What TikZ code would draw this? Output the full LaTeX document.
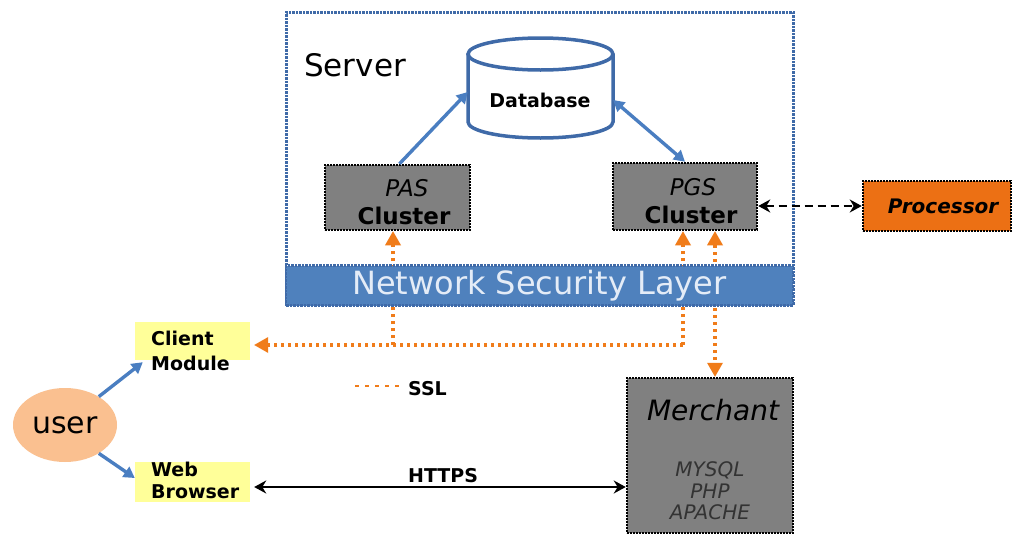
\documentclass[tikz,border=0pt]{standalone}
\usepackage{fontspec}
\setmainfont{DejaVu Sans}
\usetikzlibrary{arrows.meta,calc,shapes.geometric}
\definecolor{grayfill}{HTML}{808080}
\definecolor{srvblue}{HTML}{3F6AA8}
\definecolor{bandblue}{HTML}{4F81BD}
\definecolor{bandtext}{HTML}{E4ECF7}
\definecolor{arrblue}{HTML}{4A7EC1}
\definecolor{orng}{HTML}{F07C1A}
\definecolor{procfill}{HTML}{EC7014}
\definecolor{yel}{HTML}{FFFF99}
\definecolor{peach}{HTML}{FAC090}
\tikzset{
  graybox/.style={draw=black, dash pattern=on 1.8pt off 1.2pt, line width=2.5pt, fill=grayfill, inner sep=0pt, align=center},
  yelbox/.style={fill=yel, inner sep=0pt},
  bluearr/.style={draw=arrblue, line width=3.4pt, -{Triangle[length=11pt,width=12pt]}},
  bluearr2/.style={draw=arrblue, line width=3.4pt, {Triangle[length=11pt,width=12pt]}-{Triangle[length=11pt,width=12pt]}},
  orarr/.style={draw=orng, line width=3.5pt, dash pattern=on 3pt off 4pt},
  blkarr/.style={draw=black, line width=2.6pt, {Stealth[length=12pt,width=13pt]}-{Stealth[length=12pt,width=13pt]}},
  lbl/.style={inner sep=0pt, font=\bfseries\fontsize{19}{25}\selectfont, text=black, align=left},
  clustxt/.style={inner sep=0pt, align=center, font=\fontsize{23}{28}\selectfont},
}
\begin{document}
\begin{tikzpicture}[x=1pt,y=-1pt]
\useasboundingbox[fill=white] (0,0) rectangle (1012,533);
% server box
\node[draw=srvblue, dash pattern=on 2.5pt off 1pt, line width=3pt, minimum width=507pt, minimum height=293pt, inner sep=0pt] (server) at (539.5,158.5) {};
\node[inner sep=0pt, font=\fontsize{31}{32}\selectfont, anchor=west] (srvlbl) at (304,65) {Server};
% database cylinder
\node[minimum width=145pt, minimum height=100pt, inner sep=0pt] (db) at (540.5,88) {};
\fill[white] (468,54) -- (468,122) arc[start angle=180,end angle=0,x radius=72.5,y radius=16] -- (613,54) -- cycle;
\draw[srvblue, line width=3.5pt] (468,54) -- (468,122) arc[start angle=180,end angle=0,x radius=72.5,y radius=16] -- (613,54);
\draw[srvblue, line width=3.5pt, fill=white] (540.5,54) ellipse[x radius=72.5, y radius=16];
\node[inner sep=0pt, font=\bfseries\fontsize{19}{20}\selectfont] (dblbl) at (540,100) {Database};
% clusters
\node[graybox, minimum width=145pt, minimum height=65pt] (pas) at (397.5,197.5) {};
\node[clustxt] (pastxt) at (404,202) {\hspace*{6pt}\textit{PAS}\\\textbf{Cluster}};
\node[graybox, minimum width=144pt, minimum height=67pt] (pgs) at (685,196.5) {};
\node[clustxt] (pgstxt) at (691,201) {\hspace*{4pt}\textit{PGS}\\\textbf{Cluster}};
% processor
\node[graybox, fill=procfill, minimum width=148pt, minimum height=50pt, font=\bfseries\itshape\fontsize{20}{22}\selectfont] (proc) at (937,206) {\hspace*{12pt}Processor};
% merchant
\node[graybox, minimum width=166pt, minimum height=155pt] (merch) at (710,455.5) {};
\node[inner sep=0pt, font=\itshape\fontsize{28}{30}\selectfont] (merchlbl) at (713,410) {Merchant};
\node[inner sep=0pt, align=center, font=\itshape\fontsize{20}{21.5}\selectfont, text=black!80] (merchsw) at (710,491) {MYSQL\\PHP\\APACHE};
% user side
\node[ellipse, fill=peach, minimum width=104pt, minimum height=74pt, inner sep=0pt, font=\fontsize{30}{32}\selectfont] (user) at (65,425) {user};
\node[yelbox, minimum width=115pt, minimum height=38pt] (client) at (192.5,341) {};
\node[lbl, anchor=north west] (clientlbl) at (151,331) {Client\\Module};
\node[yelbox, minimum width=115pt, minimum height=40pt] (web) at (192.5,482) {};
\node[lbl, anchor=north west] (weblbl) at (151,462) {Web\\[-3pt]Browser};
% blue arrows
\draw[bluearr] ([xshift=2pt]pas.north) -- ([yshift=-4pt]db.west);
\draw[bluearr2] ([yshift=-12pt]db.east) -- (pgs.north);
\draw[bluearr] (user.40) -- ([xshift=8pt,yshift=-2pt]client.south west);
\draw[bluearr] (user.-40) -- ([yshift=4pt]web.west);
% processor link
\draw[blkarr, dash pattern=on 8pt off 5pt] (proc.west -| pgs.east) -- (proc.west);
% orange SSL lines
\coordinate (j1) at (393,345);
\coordinate (j2) at (683,345);
\coordinate (ce) at ($(j2 -| client.east)+(4,0)$);
\draw[orarr] (j2) -- ($(ce)+(6,0)$);
\draw[orarr] (j1) -- ($(j1 |- pas.south)+(0,10)$);
\draw[orarr] (j2) -- ($(j2 |- pgs.south)+(0,10)$);
\coordinate (m1) at ($(merch.north)+(5,0)$);
\coordinate (m2) at (m1 |- pgs.south);
\draw[orarr] ($(m1)+(0,-10)$) -- ($(m2)+(0,10)$);
\fill[orng] (ce) -- ++(14,-8) -- ++(0,16) -- cycle;
\fill[orng] (j1 |- pas.south) -- ++(-8,14) -- ++(16,0) -- cycle;
\fill[orng] (j2 |- pgs.south) -- ++(-8,14) -- ++(16,0) -- cycle;
\fill[orng] (m2) -- ++(-8,14) -- ++(16,0) -- cycle;
\fill[orng] (m1) -- ++(-8,-14) -- ++(16,0) -- cycle;
% network security layer band (over the orange lines)
\node[fill=bandblue, draw=srvblue, dash pattern=on 2.5pt off 1pt, line width=2.5pt, minimum width=507pt, minimum height=40pt, inner sep=0pt, text=bandtext, font=\fontsize{32}{34}\selectfont] (nsl) at (539.5,285.5) {Network Security Layer};
% SSL legend
\coordinate (ssla) at (355,386);
\coordinate (sslb) at (404,386);
\draw[orng, line width=2.5pt, dash pattern=on 4pt off 6pt] (ssla) -- (sslb);
\node[lbl, anchor=west] (ssl) at (408,389) {SSL};
% HTTPS
\draw[blkarr] ([xshift=4pt,yshift=-5pt]web.east) -- ([yshift=-5pt]web.east -| merch.west);
\node[lbl, anchor=west] (https) at (408,476) {HTTPS};
\end{tikzpicture}
\end{document}
